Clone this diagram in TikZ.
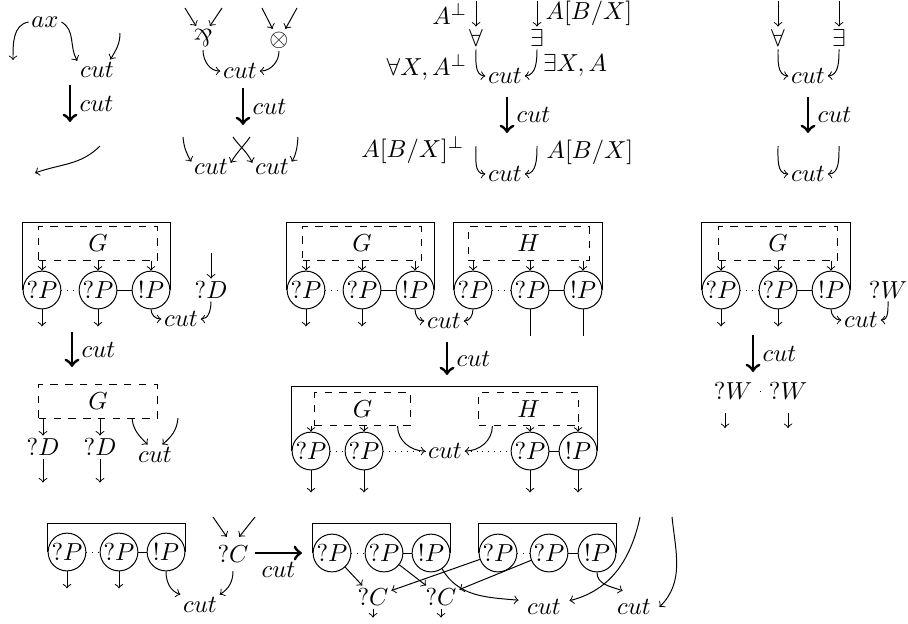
\documentclass[tikz,border=0pt]{standalone}
\usepackage{graphicx}
\usetikzlibrary{calc}

\begin{document}
\begin{tikzpicture}[
x=0.143mm, y=0.143mm,
lbl/.style={inner sep=1pt},
port/.style={draw, circle, minimum size=5.4mm, inner sep=0pt},
gbox/.style={draw, dashed, minimum height=4.4mm},
arr/.style={->},
reduce/.style={->, very thick}
]
\useasboundingbox (0,0) rectangle (908,-623);
% axiom
\node[lbl] (ax) at (45,-22) {$ax$};
\node[lbl] (axcut) at (97,-70) {$cut$};
\coordinate (axl) at (13,-60); \coordinate (axr) at (120,-33);
\draw[arr] (ax.west) to[out=190, in=90] (axl);
\draw[arr] (ax.east) to[out=-30, in=120] (axcut.155);
\draw[arr] (axr) to[out=-90, in=60] (axcut.38);
\coordinate (axa) at (70,-85); \coordinate (axb) at (70,-122);
\draw[reduce] (axa) -- node[right] (axlbl) {$cut$} (axb);
\coordinate (axs) at (100,-146); \coordinate (axt) at (35,-173);
\draw[arr] (axs) to[out=-135, in=20] (axt);
% par / tensor
\node[lbl] (par) at (203,-38) {\rotatebox[origin=c]{180}{\&}};
\node[lbl] (ten) at (279,-40) {$\otimes$};
\node[lbl] (mcut) at (240,-71) {$cut$};
\coordinate (par1) at (185,-8); \coordinate (par2) at (222,-8);
\coordinate (ten1) at (262,-8); \coordinate (ten2) at (297,-8);
\draw[arr] (par1) -- (par.120); \draw[arr] (par2) -- (par.60);
\draw[arr] (ten1) -- (ten.120); \draw[arr] (ten2) -- (ten.60);
\draw[arr] (par.south) to[out=-90, in=180] (mcut.west);
\draw[arr] (ten.south) to[out=-90, in=0] (mcut.east);
\coordinate (ma) at (243,-88); \coordinate (mb) at (243,-125);
\draw[reduce] (ma) -- node[right] (mlbl) {$cut$} (mb);
\node[lbl] (mcutl) at (211,-167) {$cut$};
\node[lbl] (mcutr) at (272,-167) {$cut$};
\coordinate (ms1) at (183,-137); \coordinate (ms2) at (233,-137);
\coordinate (ms3) at (250,-137); \coordinate (ms4) at (298,-137);
\draw[arr] (ms1) to[out=-85, in=120] (mcutl.165);
\draw[arr] (ms2) to[out=-55, in=115] (mcutr.168);
\draw[arr] (ms3) to[out=-125, in=60] (mcutl.12);
\draw[arr] (ms4) to[out=-95, in=60] (mcutr.15);
% quantifiers, typed
\coordinate (qa0) at (476,-1); \coordinate (qe0) at (537,-1);
\node[lbl] (qa) at (476,-38) {$\forall$};
\node[lbl] (qe) at (537,-38) {$\exists$};
\node[lbl] (qcut) at (505,-76) {$cut$};
\draw[arr] (qa0) -- node[left] (qal) {$A^\perp$} (qa);
\draw[arr] (qe0) -- node[right] (qel) {$A[B/X]$} (qe);
\draw[arr] (qa.south) to[out=-90, in=175] (qcut.west);
\draw[arr] (qe.south) to[out=-90, in=5] (qcut.east);
\node (qat) at (427,-67) {$\forall X, A^\perp$};
\node (qet) at (575,-65) {$\exists X, A$};
\coordinate (qra) at (507,-97); \coordinate (qrb) at (507,-133);
\draw[reduce] (qra) -- node[right] (qlbl) {$cut$} (qrb);
\node (qbl) at (413,-150) {$A[B/X]^\perp$};
\node (qbr) at (590,-152) {$A[B/X]$};
\node[lbl] (qcut2) at (505,-174) {$cut$};
\coordinate (qs1) at (476,-146); \coordinate (qs2) at (537,-146);
\draw[arr] (qs1) to[out=-90, in=180] (qcut2.west);
\draw[arr] (qs2) to[out=-90, in=0] (qcut2.east);
% quantifiers, untyped
\coordinate (fa0) at (778,-1); \coordinate (fe0) at (839,-1);
\node[lbl] (fa) at (778,-38) {$\forall$};
\node[lbl] (fe) at (839,-38) {$\exists$};
\node[lbl] (fcut) at (808,-76) {$cut$};
\draw[arr] (fa0) -- (fa); \draw[arr] (fe0) -- (fe);
\draw[arr] (fa.south) to[out=-90, in=175] (fcut.west);
\draw[arr] (fe.south) to[out=-90, in=5] (fcut.east);
\coordinate (fra) at (808,-97); \coordinate (frb) at (808,-133);
\draw[reduce] (fra) -- node[right] (flbl) {$cut$} (frb);
\node[lbl] (fcut2) at (808,-174) {$cut$};
\coordinate (fs1) at (778,-146); \coordinate (fs2) at (839,-146);
\draw[arr] (fs1) to[out=-90, in=180] (fcut2.west);
\draw[arr] (fs2) to[out=-90, in=0] (fcut2.east);
% dereliction
\node[port] (d1) at (42,-290) {$?P$};
\node[port] (d2) at (98,-290) {$?P$};
\node[port] (d3) at (151,-290) {$!P$};
\node[gbox, minimum width=16.9mm] (dG) at (98,-243.5) {$G$};
\draw (d1.west) -- ++(0,68) -| (d3.east);
\draw[dotted] (d1) -- (d2); \draw (d2) -- (d3);
\draw[arr] (dG.south -| d1) -- (d1); \draw[arr] (dG.south -| d2) -- (d2); \draw[arr] (dG.south -| d3) -- (d3);
\draw[arr] (d1.south) -- ++(0,-17); \draw[arr] (d2.south) -- ++(0,-17);
\node[lbl] (dD) at (211,-290) {$?D$};
\coordinate (dD0) at (211,-253);
\node[lbl] (dcut) at (181,-319) {$cut$};
\draw[arr] (dD0) -- (dD);
\draw[arr] (d3.south) to[out=-90, in=180] (dcut.west);
\draw[arr] (dD.south) to[out=-90, in=0] (dcut.east);
\coordinate (dra) at (72,-332); \coordinate (drb) at (72,-367);
\draw[reduce] (dra) -- node[right] (dlbl) {$cut$} (drb);
\node[gbox, minimum width=16.9mm] (dG2) at (98,-401.5) {$G$};
\node[lbl] (dD1) at (43,-447) {$?D$};
\node[lbl] (dD2) at (100,-447) {$?D$};
\draw[arr] (dG2.south -| dD1) -- (dD1); \draw[arr] (dG2.south -| dD2) -- (dD2);
\draw[arr] (dD1.south) -- ++(0,-24); \draw[arr] (dD2.south) -- ++(0,-24);
\node[lbl] (dcut2) at (155,-455) {$cut$};
\coordinate (dc1) at (132,-418); \coordinate (dc2) at (178,-418);
\draw[arr] (dc1) to[out=-85, in=135] (dcut2.125);
\draw[arr] (dc2) to[out=-95, in=40] (dcut2.55);
% box against box
\node[port] (pa1) at (306,-290) {$?P$};
\node[port] (pa2) at (362,-290) {$?P$};
\node[port] (pa3) at (415,-290) {$!P$};
\node[gbox, minimum width=17mm] (pG) at (362,-243.5) {$G$};
\draw (pa1.west) -- ++(0,68) -| (pa3.east);
\draw[dotted] (pa1) -- (pa2); \draw (pa2) -- (pa3);
\draw[arr] (pG.south -| pa1) -- (pa1); \draw[arr] (pG.south -| pa2) -- (pa2); \draw[arr] (pG.south -| pa3) -- (pa3);
\draw[arr] (pa1.south) -- ++(0,-17); \draw[arr] (pa2.south) -- ++(0,-17);
\node[port] (pb1) at (473,-290) {$?P$};
\node[port] (pb2) at (530,-290) {$?P$};
\node[port] (pb3) at (583,-290) {$!P$};
\node[gbox, minimum width=17.3mm] (pH) at (528.5,-243.5) {$H$};
\draw (pb1.west) -- ++(0,68) -| (pb3.east);
\draw[dotted] (pb1) -- (pb2); \draw (pb2) -- (pb3);
\draw[arr] (pH.south -| pb1) -- (pb1); \draw[arr] (pH.south -| pb2) -- (pb2); \draw[arr] (pH.south -| pb3) -- (pb3);
\draw (pb2.south) -- ++(0,-27); \draw (pb3.south) -- ++(0,-27);
\node[lbl] (pcut) at (444,-321) {$cut$};
\draw[arr] (pa3.south) to[out=-90, in=180] (pcut.west);
\draw[arr] (pb1.south) to[out=-90, in=0] (pcut.east);
\coordinate (pra) at (447,-342); \coordinate (prb) at (447,-375);
\draw[reduce] (pra) -- node[right] (plbl) {$cut$} (prb);
\node[port] (pc1) at (311,-451) {$?P$};
\node[port] (pc2) at (364,-451) {$?P$};
\node[port] (pc3) at (530,-451) {$?P$};
\node[port] (pc4) at (578,-451) {$!P$};
\node[gbox, minimum width=13.6mm, minimum height=4.6mm] (pG2) at (362.5,-409) {$G$};
\node[gbox, minimum width=14.2mm, minimum height=4.6mm] (pH2) at (528.5,-409) {$H$};
\node[lbl] (pcut2) at (445,-451) {$cut$};
\draw (pc1.west) -- ++(0,65) -| (pc4.east);
\draw[dotted] (pc1) -- (pc2); \draw[dotted] (pc2) -- (pcut2); \draw[dotted] (pcut2) -- (pc3); \draw (pc3) -- (pc4);
\draw[arr] (pG2.south -| pc1) -- (pc1); \draw[arr] (pG2.south -| pc2) -- (pc2);
\draw[arr] (pH2.south -| pc3) -- (pc3); \draw[arr] (pH2.south -| pc4) -- (pc4);
\draw[arr] ($(pG2.south east)+(-13,0)$) to[out=-90, in=180] (pcut2.west);
\draw[arr] ($(pH2.south west)+(14,0)$) to[out=-90, in=0] (pcut2.east);
\draw[arr] (pc1.south) -- ++(0,-22); \draw[arr] (pc2.south) -- ++(0,-22);
\draw[arr] (pc3.south) -- ++(0,-22); \draw[arr] (pc4.south) -- ++(0,-22);
% weakening
\node[port] (w1) at (721,-290) {$?P$};
\node[port] (w2) at (778,-290) {$?P$};
\node[port] (w3) at (831,-290) {$!P$};
\node[gbox, minimum width=16.9mm] (wG) at (778,-243.5) {$G$};
\draw (w1.west) -- ++(0,68) -| (w3.east);
\draw[dotted] (w1) -- (w2); \draw (w2) -- (w3);
\draw[arr] (wG.south -| w1) -- (w1); \draw[arr] (wG.south -| w2) -- (w2); \draw[arr] (wG.south -| w3) -- (w3);
\draw[arr] (w1.south) -- ++(0,-17); \draw[arr] (w2.south) -- ++(0,-17);
\node[lbl] (wW) at (888,-290) {$?W$};
\node[lbl] (wcut) at (861,-320) {$cut$};
\draw[arr] (w3.south) to[out=-90, in=180] (wcut.west);
\draw[arr] (wW.south) to[out=-90, in=0] (wcut.east);
\coordinate (wra) at (753,-335); \coordinate (wrb) at (753,-372);
\draw[reduce] (wra) -- node[right] (wlbl) {$cut$} (wrb);
\node (wW1) at (733,-391) {$?W$};
\node (wW2) at (788,-391) {$?W$};
\draw[dotted] (wW1) -- (wW2);
\coordinate (wo1) at (725,-413); \coordinate (wo2) at (788,-413);
\draw[arr] (wo1) -- ++(0,-15); \draw[arr] (wo2) -- ++(0,-15);
% contraction
\node[port] (k1) at (67,-552) {$?P$};
\node[port] (k2) at (119,-552) {$?P$};
\node[port] (k3) at (166,-552) {$!P$};
\draw (k1.west) -- ++(0,29) -| (k3.east);
\draw[dotted] (k1) -- (k2); \draw (k2) -- (k3);
\draw[arr] (k1.south) -- ++(0,-17); \draw[arr] (k2.south) -- ++(0,-17);
\node (kC) at (233,-554) {$?C$};
\coordinate (kc1) at (213,-517); \coordinate (kc2) at (255,-517);
\draw[arr] (kc1) -- (kC.110); \draw[arr] (kc2) -- (kC.70);
\node[lbl] (kcut) at (200,-605) {$cut$};
\draw[arr] (k3.south) to[out=-90, in=160] (kcut.north west);
\draw[arr] (kC.south) to[out=-90, in=32] (kcut.north east);
\coordinate (kra) at (255,-553); \coordinate (krb) at (302,-553);
\draw[reduce] (kra) -- node[below] (klbl) {$cut$} (krb);
\node[port] (r1) at (332,-553) {$?P$};
\node[port] (r2) at (384,-553) {$?P$};
\node[port] (r3) at (431,-553) {$!P$};
\draw (r1.west) -- ++(0,30) -| (r3.east);
\draw[dotted] (r1) -- (r2); \draw (r2) -- (r3);
\node[port] (r4) at (498,-553) {$?P$};
\node[port] (r5) at (549,-553) {$?P$};
\node[port] (r6) at (597,-553) {$!P$};
\draw (r4.west) -- ++(0,30) -| (r6.east);
\draw[dotted] (r4) -- (r5); \draw (r5) -- (r6);
\node[lbl] (rC1) at (373,-597) {$?C$};
\node[lbl] (rC2) at (441,-597) {$?C$};
\draw[arr] (r1) -- (rC1); \draw[arr] (r2) -- (rC2);
\draw[arr] (r4) -- (rC1); \draw[arr] (r5) -- (rC2);
\draw[arr] (rC1.south) -- ++(0,-9); \draw[arr] (rC2.south) -- ++(0,-9);
\node (rcut1) at (544,-607) {$cut$};
\node (rcut2) at (634,-607) {$cut$};
\coordinate (rf1) at (640,-517); \coordinate (rf2) at (672,-517);
\draw[arr] (r3.-55) to[out=-60, in=175] (rcut1.165);
\draw[arr] (rf1) to[out=-102, in=14] (rcut1.14);
\draw[arr] (r6.south) to[out=-90, in=160] (rcut2.125);
\draw[arr] (rf2) to[out=-84, in=45] (rcut2.east);
\end{tikzpicture}
\end{document}
